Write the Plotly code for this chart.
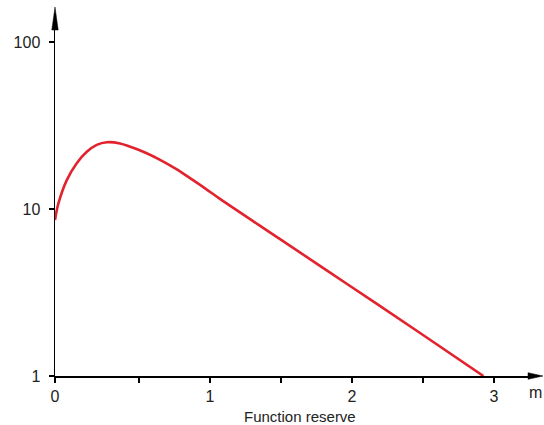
import plotly.graph_objects as go

# ---- data ----
reserve_m = [-0.092, -0.068, -0.009, 0.061, 0.132, 0.202, 0.273, 0.366, 0.437,
             0.542, 0.648, 0.754, 0.859, 0.965, 1.070, 1.493, 1.986, 2.479, 2.925]
value = [8.59, 10.8, 14.9, 18.8, 22.0, 24.2, 25.1, 24.7, 23.6,
         21.8, 19.7, 17.5, 15.3, 13.3, 11.5, 6.60, 3.46, 1.81, 1.0]

x_tickvals = [-0.092, 0.5, 1, 1.5, 2, 2.5, 3]
x_ticktext = ["0", "", "1", "", "2", "", "3"]
y_tickvals = [1, 10, 100]
y_ticktext = ["1", "10", "100"]
x_range = [-0.092, 3.239]
y_log_range = [0, 2.072]

# ---- layout constants ----
W, H = 544, 425
ML, MR, MT, MB = 55, 16, 30, 49
PW, PH = W - ML - MR, H - MT - MB
FONT = dict(family="Liberation Sans, Arial, sans-serif", size=16, color="#222222")
RED = "#e2232d"


def px_x(page_x):
    return (page_x - ML) / PW


def px_y(page_y):
    return (H - MB - page_y) / PH


fig = go.Figure()
fig.add_trace(go.Scatter(x=reserve_m, y=value, mode="lines",
                         line=dict(color=RED, width=2.6, shape="spline", smoothing=1.0),
                         hoverinfo="skip", showlegend=False))

axis_common = dict(showline=True, linecolor="black", linewidth=1.5,
                   ticks="outside", ticklen=5, tickwidth=1.5, tickcolor="black",
                   showgrid=False, zeroline=False, tickfont=FONT, automargin=False)

fig.update_xaxes(range=x_range, tickmode="array", tickvals=x_tickvals,
                 ticktext=x_ticktext, **axis_common)
fig.update_yaxes(type="log", range=y_log_range, tickmode="array",
                 tickvals=y_tickvals, ticktext=y_ticktext,
                 ticklabelstandoff=5, **axis_common)

# arrowheads at the ends of the axes
xa_len, xa_half = 15 / PW, 3.3 / PH
ya_len, ya_half = 23 / PH, 3.2 / PW
shapes = [
    dict(type="path", xref="paper", yref="paper",
         path=f"M 1 {-xa_half} L {1 + xa_len} 0 L 1 {xa_half} Z",
         fillcolor="black", line=dict(color="black", width=0.5)),
    dict(type="path", xref="paper", yref="paper",
         path=f"M {-ya_half} 1 L 0 {1 + ya_len} L {ya_half} 1 Z",
         fillcolor="black", line=dict(color="black", width=0.5)),
]

annotations = [
    dict(text="m", xref="paper", yref="paper", x=px_x(535), y=px_y(392),
         xanchor="center", yanchor="middle", showarrow=False, font=FONT),
    dict(text="Function reserve", xref="paper", yref="paper",
         x=px_x(300), y=px_y(416),
         xanchor="center", yanchor="middle", showarrow=False,
         font=dict(family=FONT["family"], size=15, color=FONT["color"])),
]

fig.update_layout(width=W, height=H,
                  margin=dict(l=ML, r=MR, t=MT, b=MB, pad=0),
                  plot_bgcolor="white", paper_bgcolor="white",
                  shapes=shapes, annotations=annotations)

fig.write_html("out.html",
               config={"displayModeBar": False, "staticPlot": True},
               post_script="document.body.style.margin='0';"
                           "document.body.style.overflow='hidden';")
